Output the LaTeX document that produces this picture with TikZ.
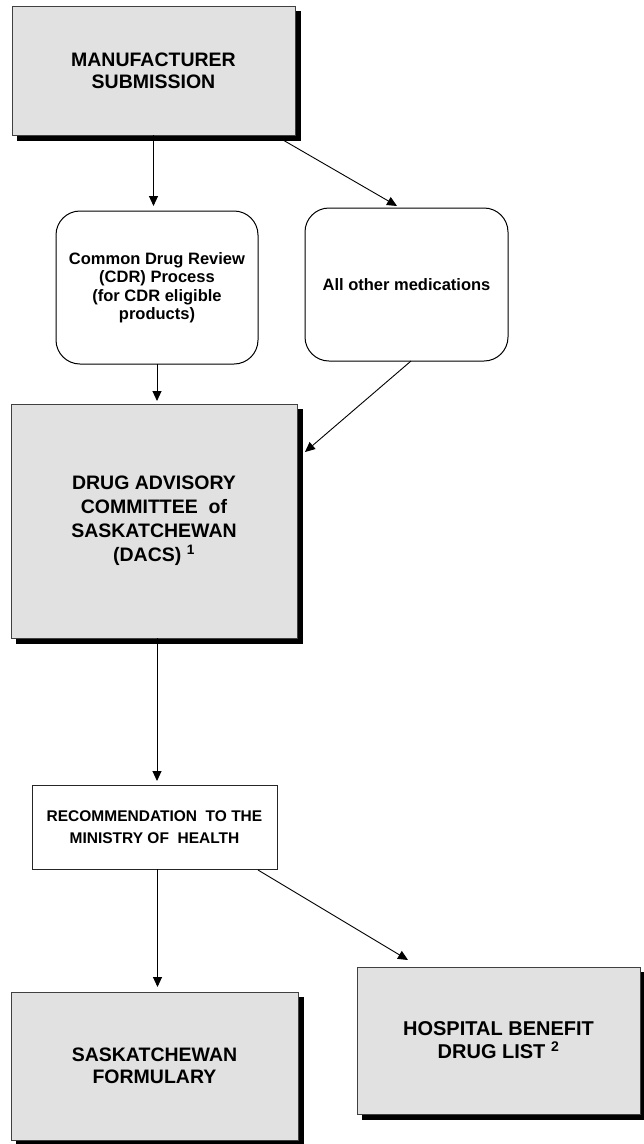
\documentclass[tikz,border=0pt]{standalone}
\usepackage{fontspec}
\setmainfont{Liberation Sans}
\usepackage{xcolor}
\usetikzlibrary{arrows.meta,shadows,calc}

\definecolor{boxgray}{RGB}{225,225,225}

\tikzset{
  graybox/.style={draw=black!75, line width=0.8pt, fill=boxgray, outer sep=0pt, inner sep=0pt, align=center,
    drop shadow={shadow xshift=5.5pt, shadow yshift=-5.5pt, fill=black, draw=black, opacity=1}},
  roundbox/.style={draw=black, line width=1pt, fill=white, rounded corners=24pt, outer sep=0pt, inner sep=0pt, align=center,
    font=\fontsize{16.5}{18.5}\selectfont\bfseries},
  plainbox/.style={draw=black!85, line width=0.8pt, fill=white, outer sep=0pt, inner sep=0pt, align=center},
  flowarrow/.style={line width=0.9pt, -{Triangle[length=10pt,width=9pt]}}
}

\begin{document}
\begin{tikzpicture}[x=1pt, y=-1pt] % one unit = one pixel of the page
    \useasboundingbox (0,0) rectangle (643,1144);

    % Submission
    \node[graybox, minimum width=283pt, minimum height=129pt, font=\fontsize{19.5}{22}\selectfont\bfseries]
        (mfr) at (153.5,70.5) {MANUFACTURER\\SUBMISSION};

    % Review paths
    \node[roundbox, minimum width=202pt, minimum height=153pt] (cdr) at (157,287.5)
        {Common Drug Review\\(CDR) Process\\(for CDR eligible\\products)};
    \node[roundbox, minimum width=203pt, minimum height=153pt] (other) at (406.5,284.5)
        {All other medications};

    % Committee
    \node[graybox, minimum width=286pt, minimum height=234pt, font=\fontsize{19.5}{24}\selectfont\bfseries]
        (dacs) at (154,521) {DRUG ADVISORY\\COMMITTEE \ of\\SASKATCHEWAN\\(DACS) \textsuperscript{1}};

    % Recommendation
    \node[plainbox, minimum width=245pt, minimum height=84pt, font=\fontsize{15.5}{21.5}\selectfont\bfseries]
        (rec) at (154.5,827) {RECOMMENDATION \ TO THE\\MINISTRY OF \ HEALTH};

    % Outcomes
    \node[graybox, minimum width=287pt, minimum height=148pt, font=\fontsize{19.5}{22}\selectfont\bfseries]
        (form) at (154.5,1066) {SASKATCHEWAN\\FORMULARY};
    \node[graybox, minimum width=283pt, minimum height=147pt, font=\fontsize{20}{23}\selectfont\bfseries]
        (hosp) at (498.5,1040.5) {HOSPITAL BENEFIT\\DRUG LIST \textsuperscript{2}};

    % Arrows
    \draw[flowarrow, shorten >=5pt] (mfr.south) -- (mfr.south |- cdr.north);
    \draw[flowarrow, shorten >=4pt] ($(mfr.south east)+(-12,5)$) -- ($(other.north)+(-6,0)$);
    \draw[flowarrow, shorten >=3pt] (cdr.south) -- (cdr.south |- dacs.north);
    \draw[flowarrow] ($(other.south)+(4.5,0)$) -- ($(dacs.east)+(8,-69)$);
    \draw[flowarrow, shorten >=4pt] ($(dacs.south)+(3,0)$) -- ($(dacs.south |- rec.north)+(3,0)$);
    \draw[flowarrow, shorten >=5pt] ($(rec.south)+(3,0)$) -- ($(rec.south |- form.north)+(3,0)$);
    \draw[flowarrow] ($(rec.south east)+(-19,1)$) -- ($(hosp.north west)+(51,-7)$);
\end{tikzpicture}
\end{document}
